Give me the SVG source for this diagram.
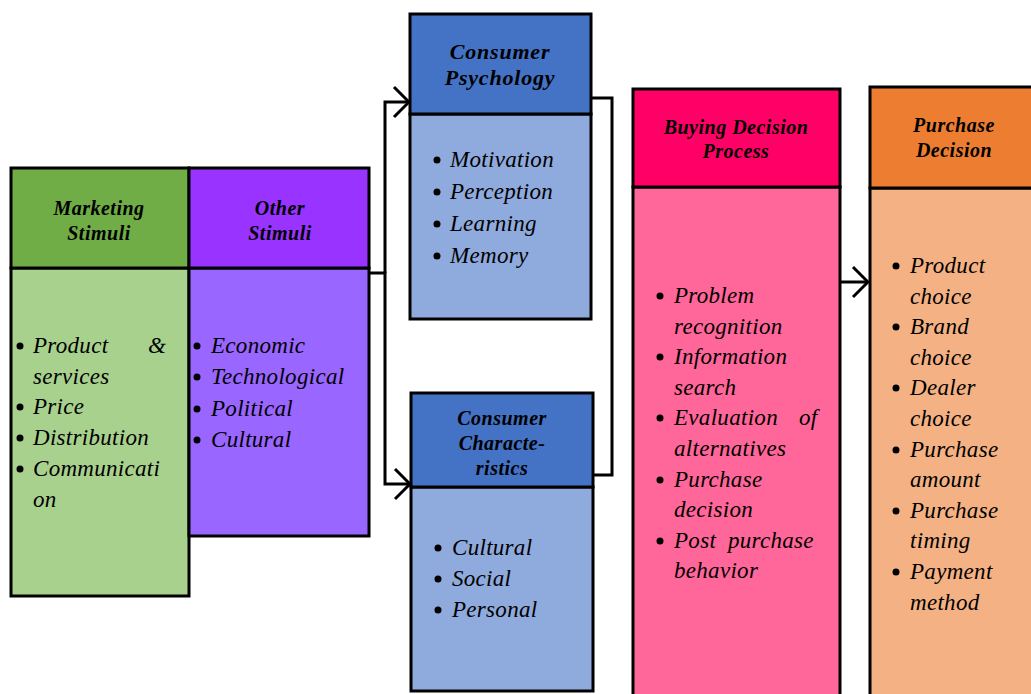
<svg xmlns="http://www.w3.org/2000/svg" width="1031" height="694" viewBox="0 0 1031 694">
  <style>
    .box { stroke: #000; stroke-width: 3; }
    .hd { font-family: "Liberation Serif", serif; font-weight: bold; font-style: italic; font-size: 20px; letter-spacing: 0.5px; text-anchor: middle; fill: #000; }
    .hd-lg { font-size: 22px; letter-spacing: 0.8px; }
    .li { font-family: "Liberation Serif", serif; font-style: italic; font-size: 23px; letter-spacing: 0.3px; fill: #000; }
    .dot { fill: #000; }
    .wire { fill: none; stroke: #000; stroke-width: 3; }
  </style>
  <defs>
    <marker id="chev" viewBox="0 0 20 34" refX="18" refY="17" markerWidth="20" markerHeight="34" markerUnits="userSpaceOnUse" orient="auto">
      <path d="M3,2 L18,17 L3,32" fill="none" stroke="#000" stroke-width="3"/>
    </marker>
  </defs>
  <rect width="1031" height="694" fill="#fff"/>

  <!-- Marketing stimuli -->
  <g id="marketing-stimuli">
    <rect class="box" x="11" y="268" width="178" height="328" fill="#A9D18E"/>
    <rect class="box" x="11" y="168" width="178" height="100" fill="#70AD47"/>
    <text class="hd" x="99" y="215">Marketing</text>
    <text class="hd" x="99" y="240">Stimuli</text>
    <circle class="dot" cx="20" cy="346" r="3.5"/>
    <text class="li" x="33" y="353">Product</text>
    <text class="li" x="148" y="353">&amp;</text>
    <text class="li" x="33" y="384">services</text>
    <circle class="dot" cx="20" cy="407" r="3.5"/>
    <text class="li" x="33" y="414">Price</text>
    <circle class="dot" cx="20" cy="438" r="3.5"/>
    <text class="li" x="33" y="445">Distribution</text>
    <circle class="dot" cx="20" cy="469" r="3.5"/>
    <text class="li" x="33" y="476">Communicati</text>
    <text class="li" x="33" y="507">on</text>
  </g>

  <!-- Other stimuli -->
  <g id="other-stimuli">
    <rect class="box" x="189" y="268" width="180" height="268" fill="#9966FF"/>
    <rect class="box" x="189" y="168" width="180" height="100" fill="#9933FF"/>
    <text class="hd" x="280" y="215">Other</text>
    <text class="hd" x="280" y="240">Stimuli</text>
    <circle class="dot" cx="197" cy="346" r="3.5"/>
    <text class="li" x="211" y="353">Economic</text>
    <circle class="dot" cx="197" cy="377" r="3.5"/>
    <text class="li" x="211" y="384">Technological</text>
    <circle class="dot" cx="197" cy="409" r="3.5"/>
    <text class="li" x="211" y="416">Political</text>
    <circle class="dot" cx="197" cy="440" r="3.5"/>
    <text class="li" x="211" y="447">Cultural</text>
  </g>

  <!-- Consumer psychology -->
  <g id="consumer-psychology">
    <rect class="box" x="410" y="114" width="181" height="205" fill="#8FAADC"/>
    <rect class="box" x="410" y="14" width="181" height="100" fill="#4472C4"/>
    <text class="hd hd-lg" x="500" y="59">Consumer</text>
    <text class="hd hd-lg" x="500" y="85">Psychology</text>
    <circle class="dot" cx="437" cy="160" r="3.5"/>
    <text class="li" x="450" y="167">Motivation</text>
    <circle class="dot" cx="437" cy="192" r="3.5"/>
    <text class="li" x="450" y="199">Perception</text>
    <circle class="dot" cx="437" cy="224" r="3.5"/>
    <text class="li" x="450" y="231">Learning</text>
    <circle class="dot" cx="437" cy="256" r="3.5"/>
    <text class="li" x="450" y="263">Memory</text>
  </g>

  <!-- Consumer characteristics -->
  <g id="consumer-characteristics">
    <rect class="box" x="411" y="487" width="182" height="204" fill="#8FAADC"/>
    <rect class="box" x="411" y="393" width="182" height="94" fill="#4472C4"/>
    <text class="hd" x="502" y="425">Consumer</text>
    <text class="hd" x="502" y="450">Characte-</text>
    <text class="hd" x="502" y="475">ristics</text>
    <circle class="dot" cx="438" cy="548" r="3.5"/>
    <text class="li" x="452" y="555">Cultural</text>
    <circle class="dot" cx="438" cy="579" r="3.5"/>
    <text class="li" x="452" y="586">Social</text>
    <circle class="dot" cx="438" cy="610" r="3.5"/>
    <text class="li" x="452" y="617">Personal</text>
  </g>

  <!-- Buying decision process -->
  <g id="buying-decision-process">
    <rect class="box" x="633" y="187" width="207" height="520" fill="#FF6699"/>
    <rect class="box" x="633" y="89" width="207" height="98" fill="#FF0066"/>
    <text class="hd" x="736" y="134">Buying Decision</text>
    <text class="hd" x="736" y="158">Process</text>
    <circle class="dot" cx="660" cy="296" r="3.5"/>
    <text class="li" x="674" y="303">Problem</text>
    <text class="li" x="674" y="334">recognition</text>
    <circle class="dot" cx="660" cy="357" r="3.5"/>
    <text class="li" x="674" y="364">Information</text>
    <text class="li" x="674" y="395">search</text>
    <circle class="dot" cx="660" cy="418" r="3.5"/>
    <text class="li" x="674" y="425">Evaluation</text>
    <text class="li" x="799" y="425">of</text>
    <text class="li" x="674" y="456">alternatives</text>
    <circle class="dot" cx="660" cy="480" r="3.5"/>
    <text class="li" x="674" y="487">Purchase</text>
    <text class="li" x="674" y="517">decision</text>
    <circle class="dot" cx="660" cy="541" r="3.5"/>
    <text class="li" x="674" y="548">Post</text>
    <text class="li" x="728" y="548">purchase</text>
    <text class="li" x="674" y="578">behavior</text>
  </g>

  <!-- Purchase decision -->
  <g id="purchase-decision">
    <rect class="box" x="870" y="188" width="180" height="520" fill="#F4B183"/>
    <rect class="box" x="870" y="87" width="180" height="101" fill="#ED7D31"/>
    <text class="hd" x="954" y="132">Purchase</text>
    <text class="hd" x="954" y="157">Decision</text>
    <circle class="dot" cx="896" cy="266" r="3.5"/>
    <text class="li" x="910" y="273">Product</text>
    <text class="li" x="910" y="304">choice</text>
    <circle class="dot" cx="896" cy="327" r="3.5"/>
    <text class="li" x="910" y="334">Brand</text>
    <text class="li" x="910" y="365">choice</text>
    <circle class="dot" cx="896" cy="388" r="3.5"/>
    <text class="li" x="910" y="395">Dealer</text>
    <text class="li" x="910" y="426">choice</text>
    <circle class="dot" cx="896" cy="450" r="3.5"/>
    <text class="li" x="910" y="457">Purchase</text>
    <text class="li" x="910" y="487">amount</text>
    <circle class="dot" cx="896" cy="511" r="3.5"/>
    <text class="li" x="910" y="518">Purchase</text>
    <text class="li" x="910" y="548">timing</text>
    <circle class="dot" cx="896" cy="572" r="3.5"/>
    <text class="li" x="910" y="579">Payment</text>
    <text class="li" x="910" y="610">method</text>
  </g>

  <!-- Connectors -->
  <g id="connectors">
    <path class="wire" d="M385,273 V102 H409" marker-end="url(#chev)"/>
    <path class="wire" d="M369,273 H385 V484 H410" marker-end="url(#chev)"/>
    <path class="wire" d="M591,98 H612 V475 H593"/>
    <path class="wire" d="M840,282 H868" marker-end="url(#chev)"/>
  </g>
</svg>
